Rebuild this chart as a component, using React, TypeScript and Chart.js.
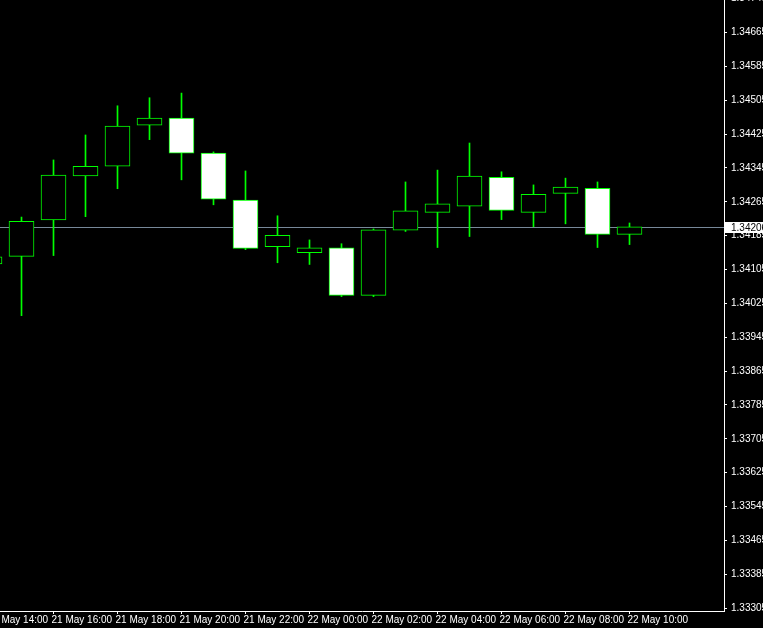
import React, { useEffect, useRef } from 'react';
import { Chart, registerables } from 'chart.js';

Chart.register(...registerables);

// Hourly candles, 21 May 14:00 .. 22 May 10:00
const times = [
  '21 May 14:00', '21 May 15:00', '21 May 16:00', '21 May 17:00', '21 May 18:00',
  '21 May 19:00', '21 May 20:00', '21 May 21:00', '21 May 22:00', '21 May 23:00',
  '22 May 00:00', '22 May 01:00', '22 May 02:00', '22 May 03:00', '22 May 04:00',
  '22 May 05:00', '22 May 06:00', '22 May 07:00', '22 May 08:00', '22 May 09:00',
  '22 May 10:00',
];
const openP = [
  1.34118, 1.34136, 1.34222, 1.34326, 1.34349, 1.34446, 1.34463, 1.34380, 1.34269, 1.34159,
  1.34145, 1.34156, 1.34044, 1.34198, 1.34240, 1.34255, 1.34323, 1.34240, 1.34285, 1.34297,
  1.34188,
];
const highP = [
  1.34150, 1.34229, 1.34364, 1.34423, 1.34492, 1.34511, 1.34522, 1.34383, 1.34338, 1.34232,
  1.34175, 1.34166, 1.34201, 1.34312, 1.34340, 1.34404, 1.34336, 1.34305, 1.34321, 1.34312,
  1.34215,
];
const lowP = [
  1.34100, 1.33996, 1.34138, 1.34230, 1.34296, 1.34412, 1.34317, 1.34258, 1.34152, 1.34121,
  1.34117, 1.34041, 1.34041, 1.34195, 1.34157, 1.34183, 1.34223, 1.34206, 1.34213, 1.34157,
  1.34164,
];
const closeP = [
  1.34135, 1.34219, 1.34328, 1.34349, 1.34444, 1.34463, 1.34380, 1.34271, 1.34155, 1.34186,
  1.34156, 1.34044, 1.34199, 1.34244, 1.34260, 1.34326, 1.34245, 1.34283, 1.34300, 1.34188,
  1.34206,
];

const priceTicks = [
  1.33305, 1.33385, 1.33465, 1.33545, 1.33625, 1.33705, 1.33785, 1.33865, 1.33945, 1.34025,
  1.34105, 1.34185, 1.34265, 1.34345, 1.34425, 1.34505, 1.34585, 1.34665, 1.34745,
];
const timeTickIndices = [0, 2, 4, 6, 8, 10, 12, 14, 16, 18, 20];

// visible window
const Y_MIN = 1.33298;
const Y_MAX = 1.34742;
const X_MIN = 0.328125;
const X_MAX = 22.953125;

const FONT = { family: 'Liberation Sans', size: 10 };
const GREEN = '#00ff00';

export default function App() {
  const ref = useRef<HTMLCanvasElement | null>(null);

  useEffect(() => {
    document.body.style.margin = '0';
    document.body.style.background = '#000';
    const canvas = ref.current;
    if (!canvas) return;

    const lastClose = closeP[closeP.length - 1];

    const bidLine = {
      id: 'bidLine',
      beforeDatasetsDraw(chart: any) {
        const { ctx, chartArea, scales } = chart;
        const y = Math.round(scales.y.getPixelForValue(lastClose)) + 0.5;
        ctx.save();
        ctx.strokeStyle = '#778899';
        ctx.lineWidth = 1;
        ctx.beginPath();
        ctx.moveTo(chartArea.left, y);
        ctx.lineTo(chartArea.right, y);
        ctx.stroke();
        ctx.restore();
      },
      afterDraw(chart: any) {
        const { ctx, chartArea, scales } = chart;
        const y = Math.round(scales.y.getPixelForValue(lastClose));
        ctx.save();
        ctx.fillStyle = '#ffffff';
        ctx.fillRect(chartArea.right + 1, y - 5, 45, 11);
        ctx.fillStyle = '#000000';
        ctx.font = '10px "Liberation Sans"';
        ctx.textBaseline = 'middle';
        ctx.textAlign = 'left';
        ctx.fillText(lastClose.toFixed(5), chartArea.right + 7, y + 1);
        ctx.restore();
      },
    };

    const chart = new Chart(canvas, {
      type: 'bar',
      data: {
        datasets: [
          {
            label: 'body',
            data: times.map((_, i) => ({ x: i, y: [openP[i], closeP[i]] })) as any,
            backgroundColor: times.map((_, i) => (closeP[i] >= openP[i] ? '#000000' : '#ffffff')),
            borderColor: GREEN,
            borderWidth: 1,
            borderSkipped: false,
            barThickness: 25,
            grouped: false,
          } as any,
          {
            label: 'wick',
            data: times.map((_, i) => ({ x: i, y: [lowP[i], highP[i]] })) as any,
            backgroundColor: GREEN,
            borderWidth: 0,
            barThickness: 1,
            grouped: false,
          } as any,
        ],
      },
      plugins: [bidLine],
      options: {
        animation: false,
        responsive: false,
        devicePixelRatio: 1,
        layout: { padding: 0 },
        plugins: {
          legend: { display: false },
          tooltip: { enabled: false },
        },
        scales: {
          x: {
            type: 'linear',
            min: X_MIN,
            max: X_MAX,
            offset: false,
            afterBuildTicks: (s: any) => {
              s.ticks = timeTickIndices.map((v) => ({ value: v }));
            },
            afterFit: (s: any) => {
              s.height = 17;
              s.paddingLeft = 0;
              s.paddingRight = 0;
            },
            border: { color: '#ffffff', width: 1 },
            grid: { offset: false, drawOnChartArea: false, drawTicks: true, tickLength: 3, color: '#ffffff' },
            ticks: {
              color: '#ffffff',
              font: FONT,
              align: 'start',
              labelOffset: -2,
              autoSkip: false,
              maxRotation: 0,
              minRotation: 0,
              padding: 0,
              callback: (v: any) => times[Math.round(Number(v))] ?? '',
            },
          } as any,
          y: {
            type: 'linear',
            position: 'right',
            min: Y_MIN,
            max: Y_MAX,
            beginAtZero: false,
            afterBuildTicks: (s: any) => {
              s.ticks = priceTicks.map((v) => ({ value: v }));
            },
            afterFit: (s: any) => {
              s.width = 39;
              s.paddingTop = 0;
              s.paddingBottom = 0;
            },
            border: { color: '#ffffff', width: 1 },
            grid: { drawOnChartArea: false, drawTicks: true, tickLength: 3, color: '#ffffff' },
            ticks: {
              color: '#ffffff',
              font: FONT,
              padding: 4,
              autoSkip: false,
              callback: (v: any) => Number(v).toFixed(5),
            },
          } as any,
        },
      },
    });

    return () => chart.destroy();
  }, []);

  return (
    <div style={{ position: 'fixed', left: 0, top: 0, width: 763, height: 628, background: '#000' }}>
      <canvas ref={ref} width={763} height={628} style={{ display: 'block', width: 763, height: 628 }} />
    </div>
  );
}
